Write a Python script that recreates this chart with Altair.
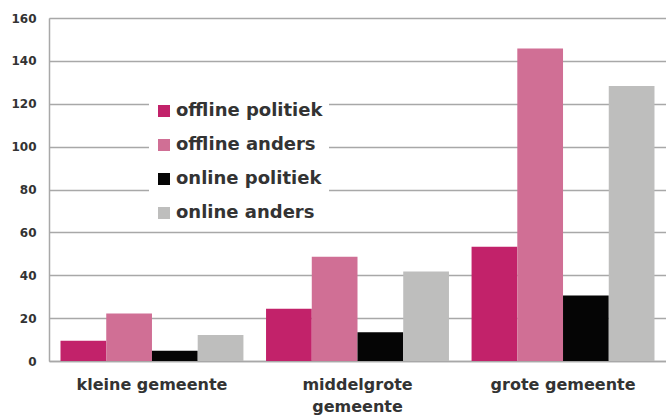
import altair as alt
import pandas as pd

# Municipality size classes and the four activity series
gemeenten = ["kleine gemeente", "middelgrote gemeente", "grote gemeente"]
reeksen = ["offline politiek", "offline anders", "online politiek", "online anders"]
kleuren = ["#C2226A", "#D06F95", "#050505", "#BEBEBD"]

offline_politiek = [9.5, 24.4, 53.3]
offline_anders = [22.2, 48.6, 145.8]
online_politiek = [4.8, 13.4, 30.5]
online_anders = [12.1, 41.7, 128.3]

waarden = [offline_politiek, offline_anders, online_politiek, online_anders]
rows = []
for reeks, vals in zip(reeksen, waarden):
    for g, v in zip(gemeenten, vals):
        rows.append({"gemeente": g, "reeks": reeks, "waarde": v})
df = pd.DataFrame(rows)

FONT = "DejaVu Sans"
TEXT = "#333333"

# the middle category label is wrapped over two lines
label_expr = (
    "datum.value == 'middelgrote gemeente' ? ['middelgrote', 'gemeente'] : datum.value"
)

chart = (
    alt.Chart(df)
    .mark_bar()
    .encode(
        x=alt.X(
            "gemeente:N",
            sort=gemeenten,
            scale=alt.Scale(paddingInner=0.11, paddingOuter=0.056),
            axis=alt.Axis(
                title=None,
                labelAngle=0,
                labelExpr=label_expr,
                labelFont=FONT,
                labelFontWeight="bold",
                labelFontSize=16,
                labelColor=TEXT,
                labelPadding=15,
                labelLineHeight=22,
                ticks=False,
                domainColor="#A8A8A8",
                domainWidth=1.5,
            ),
        ),
        xOffset=alt.XOffset("reeks:N", sort=reeksen, scale=alt.Scale(paddingInner=0, paddingOuter=0)),
        y=alt.Y(
            "waarde:Q",
            scale=alt.Scale(domain=[0, 160]),
            axis=alt.Axis(
                title=None,
                values=list(range(0, 161, 20)),
                labelFont=FONT,
                labelFontWeight="bold",
                labelFontSize=12,
                labelColor=TEXT,
                labelPadding=13,
                ticks=False,
                gridColor="#A8A8A8",
                gridWidth=1.5,
                domainColor="#A8A8A8",
                domainWidth=1.5,
            ),
        ),
        color=alt.Color(
            "reeks:N",
            sort=reeksen,
            scale=alt.Scale(domain=reeksen, range=kleuren),
            legend=alt.Legend(
                title=None,
                orient="none",
                legendX=100,
                legendY=78,
                padding=6,
                fillColor="white",
                symbolType="square",
                symbolSize=144,
                symbolStrokeWidth=0,
                labelFont=FONT,
                labelFontWeight="bold",
                labelFontSize=18,
                labelColor=TEXT,
                labelOffset=3,
                rowPadding=16,
            ),
        ),
    )
    .properties(
        width=617,
        height=343,
        autosize=alt.AutoSizeParams(type="none"),
        padding={"left": 49, "top": 18, "right": 0, "bottom": 55},
    )
    .configure_view(stroke=None)
    .configure(background="white")
)

chart.save("out.html", embed_options={"renderer": "svg", "actions": False})
